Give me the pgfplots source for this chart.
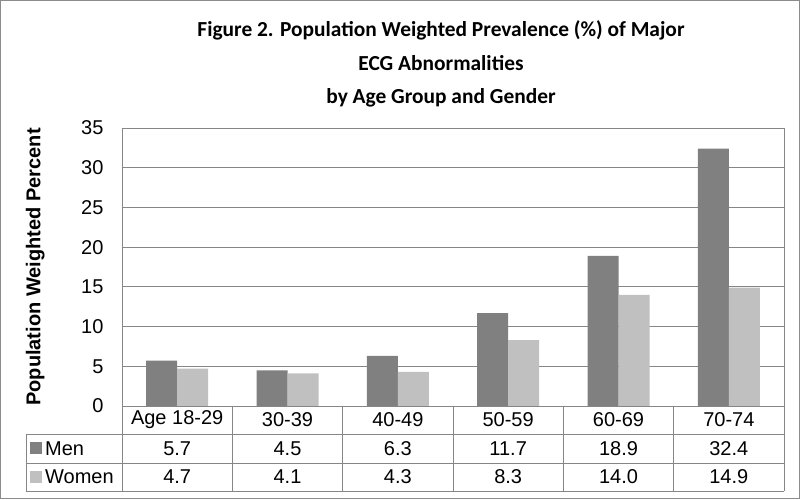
\documentclass[border=0pt]{standalone}
\usepackage{pgfplots}
\pgfplotsset{compat=1.18}
\usepackage{fontspec}
\setmainfont{Liberation Sans}
\newfontfamily\titlefont{Carlito}
\definecolor{mengray}{HTML}{808080}
\definecolor{womengray}{HTML}{C0C0C0}
\definecolor{gridgray}{HTML}{868686}
\definecolor{framegray}{HTML}{8C8C8C}
\begin{document}
\begin{tikzpicture}
\begin{axis}[
  name=ax, at={(0,0)}, anchor=south west,
  scale only axis, width=662pt, height=278pt,
  xmin=0, xmax=6, ymin=0, ymax=35,
  ytick={0,5,10,15,20,25,30,35},
  xtick=\empty,
  ymajorgrids, grid style={gridgray,line width=0.8pt},
  axis line style={gridgray,line width=0.8pt},
  separate axis lines,
  x axis line style={draw=none},
  y axis line style={draw=gridgray},
  major tick length=0pt,
  yticklabel style={font=\fontsize{20}{20}\selectfont, xshift=-15pt},
  /pgf/number format/assume math mode=true,
  ybar=0pt, bar width=31pt,
  ylabel={\bfseries Population Weighted Percent},
  ylabel style={font=\fontsize{20}{20}\selectfont, at={(axis description cs:-0.131,0.5)}, anchor=center},
  clip=false,
]
\addplot[fill=mengray, draw=none] coordinates {(0.5,5.7) (1.5,4.5) (2.5,6.3) (3.5,11.7) (4.5,18.9) (5.5,32.4)};
\addplot[fill=womengray, draw=none] coordinates {(0.5,4.7) (1.5,4.1) (2.5,4.3) (3.5,8.3) (4.5,14.0) (5.5,14.9)};
\end{axis}
\begin{scope}[shift={(ax.south west)}, x=1pt, y=1pt, shift={(-122,-93)}]
\draw[framegray,line width=1.5pt] (0.75,0.75) rectangle (799.25,498.25);
\node[font=\titlefont\bfseries\fontsize{21.4}{33.5}\selectfont,align=center,anchor=center] at (441,435)
  {Figure 2. Population Weighted Prevalence (\%) of Major\\ECG Abnormalities\\by Age Group and Gender};
% data table
\begin{scope}[gridgray, line width=0.8pt]
  \draw (122,93) -- (784,93);
  \draw (26,65) -- (784,65);
  \draw (26,36) -- (784,36);
  \draw (26,8) -- (784,8);
  \draw (26,65) -- (26,8);
  \foreach \k in {0,...,6} { \draw ({122+110.333*\k},93) -- ({122+110.333*\k},8); }
\end{scope}
\foreach \lab [count=\i from 0] in {Age 18-29,30-39,40-49,50-59,60-69,70-74}
  \node[font=\fontsize{20}{20}\selectfont] at ({122+110.333*(\i+0.5)},79) {\lab};
\foreach \v [count=\i from 0] in {5.7,4.5,6.3,11.7,18.9,32.4}
  \node[font=\fontsize{20}{20}\selectfont] at ({122+110.333*(\i+0.5)},50.5) {\v};
\foreach \v [count=\i from 0] in {4.7,4.1,4.3,8.3,14.0,14.9}
  \node[font=\fontsize{20}{20}\selectfont] at ({122+110.333*(\i+0.5)},22) {\v};
\fill[mengray] (30,45) rectangle (42,57);
\fill[womengray] (30,16) rectangle (42,28);
\node[font=\fontsize{20}{20}\selectfont, anchor=west, inner sep=0pt] at (45,50.5) {Men};
\node[font=\fontsize{20}{20}\selectfont, anchor=west, inner sep=0pt] at (45,22) {Women};
\end{scope}
\end{tikzpicture}
\end{document}
